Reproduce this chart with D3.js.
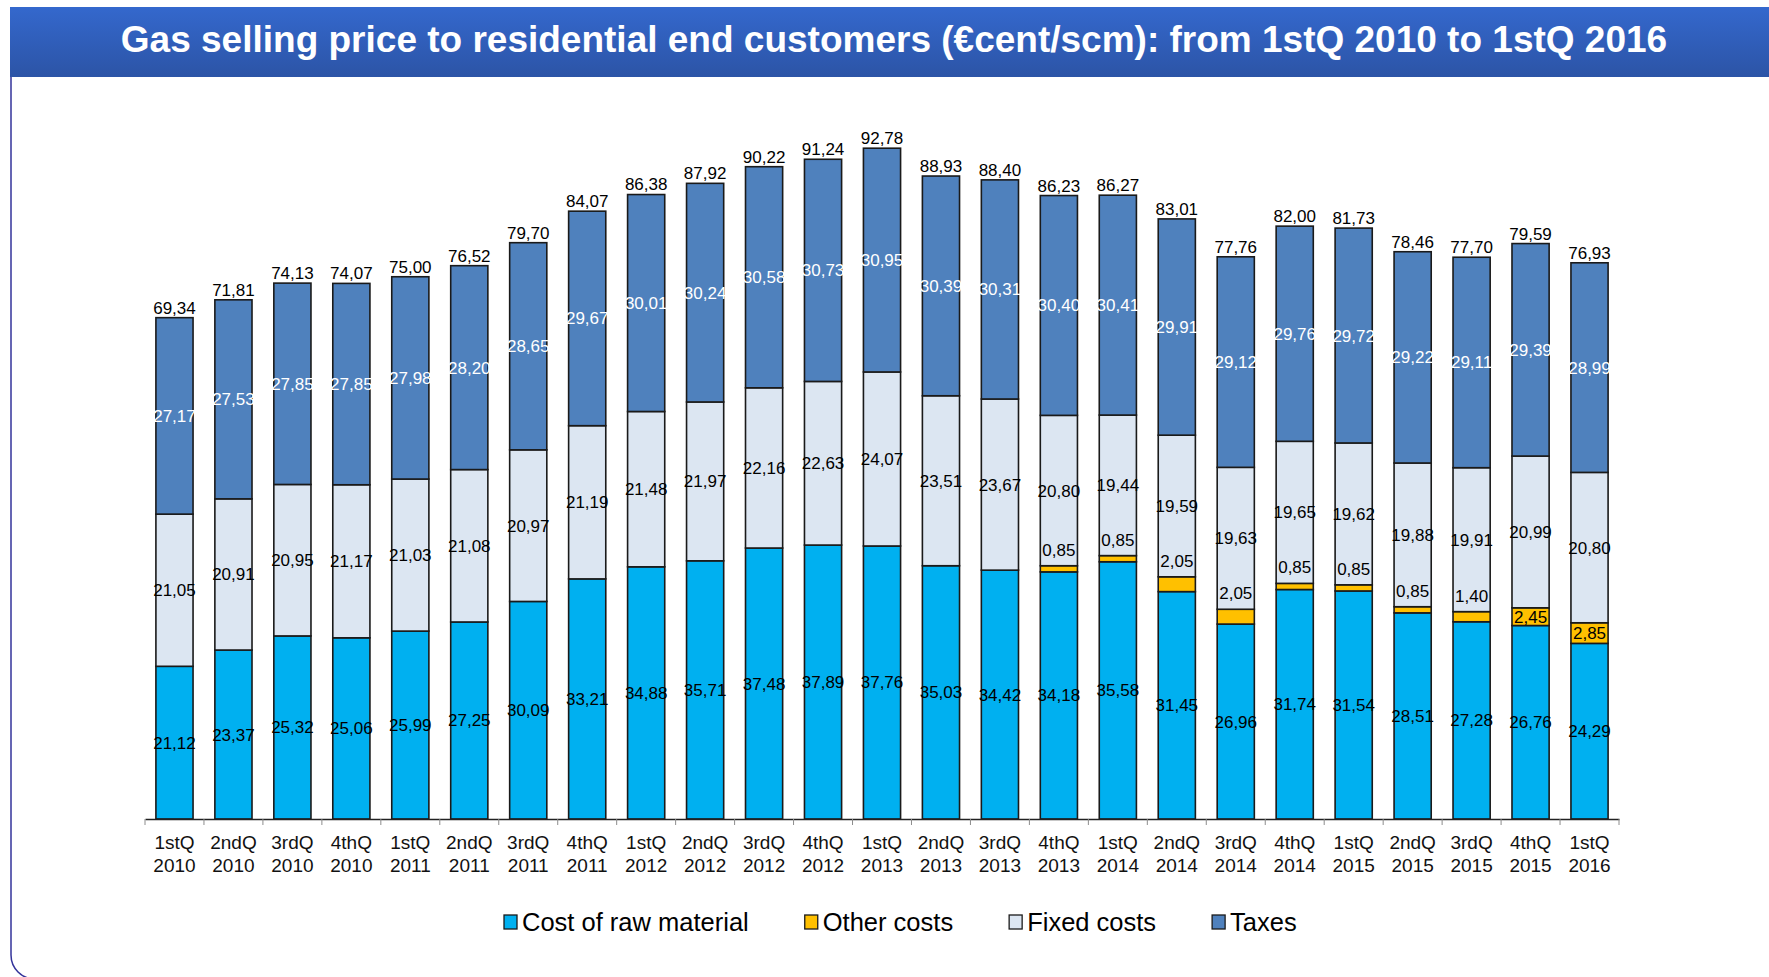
<!DOCTYPE html>
<html>
<head>
<meta charset="utf-8">
<script src="https://cdn.jsdelivr.net/npm/d3@7"></script>
<style>
  body { margin: 0; background: #fff; }
  svg { display: block; font-family: "Liberation Sans", Arial, sans-serif; }
</style>
</head>
<body>
<div id="chart"></div>
<script>
const quarters = ["1stQ 2010", "2ndQ 2010", "3rdQ 2010", "4thQ 2010", "1stQ 2011", "2ndQ 2011", "3rdQ 2011", "4thQ 2011",
  "1stQ 2012", "2ndQ 2012", "3rdQ 2012", "4thQ 2012", "1stQ 2013", "2ndQ 2013", "3rdQ 2013", "4thQ 2013",
  "1stQ 2014", "2ndQ 2014", "3rdQ 2014", "4thQ 2014", "1stQ 2015", "2ndQ 2015", "3rdQ 2015", "4thQ 2015", "1stQ 2016"];
const rawMaterial = [21.12, 23.37, 25.32, 25.06, 25.99, 27.25, 30.09, 33.21, 34.88, 35.71, 37.48, 37.89, 37.76,
  35.03, 34.42, 34.18, 35.58, 31.45, 26.96, 31.74, 31.54, 28.51, 27.28, 26.76, 24.29];
const otherCosts = [0, 0, 0, 0, 0, 0, 0, 0, 0, 0, 0, 0, 0, 0, 0,
  0.85, 0.85, 2.05, 2.05, 0.85, 0.85, 0.85, 1.40, 2.45, 2.85];
const fixedCosts = [21.05, 20.91, 20.95, 21.17, 21.03, 21.08, 20.97, 21.19, 21.48, 21.97, 22.16, 22.63, 24.07,
  23.51, 23.67, 20.80, 19.44, 19.59, 19.63, 19.65, 19.62, 19.88, 19.91, 20.99, 20.80];
const taxes = [27.17, 27.53, 27.85, 27.85, 27.98, 28.20, 28.65, 29.67, 30.01, 30.24, 30.58, 30.73, 30.95,
  30.39, 30.31, 30.40, 30.41, 29.91, 29.12, 29.76, 29.72, 29.22, 29.11, 29.39, 28.99];
const totals = [69.34, 71.81, 74.13, 74.07, 75.00, 76.52, 79.70, 84.07, 86.38, 87.92, 90.22, 91.24, 92.78,
  88.93, 88.40, 86.23, 86.27, 83.01, 77.76, 82.00, 81.73, 78.46, 77.70, 79.59, 76.93];

const seriesKeys = ["raw", "other", "fixed", "tax"];
const seriesNames = ["Cost of raw material", "Other costs", "Fixed costs", "Taxes"];
const seriesColors = ["#00b0f0", "#ffc000", "#dce6f2", "#4f81bd"];
const labelColors = ["#000", "#000", "#000", "#fff"];

const W = 1769, H = 977;
const fmt = v => d3.format(".2f")(v).replace(".", ",");

const rows = quarters.map((q, i) => ({
  q: q, raw: rawMaterial[i], other: otherCosts[i], fixed: fixedCosts[i], tax: taxes[i], total: totals[i]
}));

const svg = d3.select("#chart").append("svg").attr("width", W).attr("height", H);

// frame (right and bottom edges run off the picture)
svg.append("rect")
  .attr("x", 11).attr("y", 40).attr("width", 1800).attr("height", 939).attr("rx", 24)
  .attr("fill", "#fff").attr("stroke", "#33339a").attr("stroke-width", 1.5);

// title band
const grad = svg.append("defs").append("linearGradient")
  .attr("id", "titleGrad").attr("x1", 0).attr("y1", 0).attr("x2", 0).attr("y2", 1);
grad.append("stop").attr("offset", "0%").attr("stop-color", "#3468cd");
grad.append("stop").attr("offset", "100%").attr("stop-color", "#2c54a6");
svg.append("rect").attr("x", 10).attr("y", 7).attr("width", W - 10).attr("height", 70).attr("fill", "url(#titleGrad)");
svg.append("text")
  .attr("x", 894).attr("y", 52).attr("text-anchor", "middle")
  .attr("fill", "#fff").attr("font-weight", "bold").attr("font-size", 37)
  .text("Gas selling price to residential end customers (€cent/scm): from 1stQ 2010 to 1stQ 2016");

// scales
const x = d3.scaleBand().domain(quarters).range([145, 1619]).paddingInner(0.37).paddingOuter(0.185);
const y = d3.scaleLinear().domain([0, 100]).range([819, 96]);

const stacked = d3.stack().keys(seriesKeys)(rows);

const g = svg.append("g");

stacked.forEach((layer, li) => {
  g.append("g").selectAll("rect")
    .data(layer.filter(d => d[1] - d[0] > 0))
    .join("rect")
    .attr("x", d => x(d.data.q))
    .attr("width", x.bandwidth())
    .attr("y", d => y(d[1]))
    .attr("height", d => y(d[0]) - y(d[1]))
    .attr("fill", seriesColors[li])
    .attr("stroke", "#1a1a1a")
    .attr("stroke-width", 1.6);
});

// segment labels (small "other costs" sit just above their segment)
stacked.forEach((layer, li) => {
  g.append("g").selectAll("text")
    .data(layer.filter(d => d[1] - d[0] > 0))
    .join("text")
    .attr("x", d => x(d.data.q) + x.bandwidth() / 2)
    .attr("y", d => {
      const v = d[1] - d[0];
      if (li === 1 && v < 2.2) return y(d[1]) - 10;
      return (y(d[0]) + y(d[1])) / 2 + 6;
    })
    .attr("text-anchor", "middle")
    .attr("font-size", 17)
    .attr("fill", labelColors[li])
    .text(d => fmt(d[1] - d[0]));
});

// totals
g.append("g").selectAll("text")
  .data(rows)
  .join("text")
  .attr("x", d => x(d.q) + x.bandwidth() / 2)
  .attr("y", d => y(d.total) - 4)
  .attr("text-anchor", "middle")
  .attr("font-size", 17)
  .attr("fill", "#000")
  .text(d => fmt(d.total));

// x axis
const axis = svg.append("g")
  .attr("transform", `translate(0,${y(0)})`)
  .call(d3.axisBottom(x).tickSize(0).tickSizeOuter(0).tickPadding(0));
axis.select(".domain").attr("stroke", "#222").attr("stroke-width", 1.3);
axis.selectAll(".tick text").each(function (d) {
  const t = d3.select(this).text("").attr("font-size", 19).attr("fill", "#111")
    .attr("font-family", "'Liberation Sans', Arial, sans-serif").attr("y", 0).attr("dy", null);
  const parts = d.split(" ");
  t.append("tspan").attr("x", 0).attr("y", 30).text(parts[0]);
  t.append("tspan").attr("x", 0).attr("y", 53).text(parts[1]);
});
const bounds = d3.range(quarters.length + 1).map(i => x.range()[0] + i * x.step());
axis.selectAll(".bound")
  .data(bounds)
  .join("line")
  .attr("class", "bound")
  .attr("x1", d => d).attr("x2", d => d)
  .attr("y1", 0).attr("y2", 6)
  .attr("stroke", "#8c8c8c").attr("stroke-width", 1);

// legend
const legend = svg.append("g").attr("transform", "translate(504,922)");
let lx = 0;
seriesNames.forEach((name, i) => {
  const item = legend.append("g").attr("transform", `translate(${lx},0)`);
  item.append("rect")
    .attr("x", 0).attr("y", -7).attr("width", 13).attr("height", 14)
    .attr("fill", seriesColors[i]).attr("stroke", "#1a1a1a").attr("stroke-width", 1.3);
  const t = item.append("text")
    .attr("x", 18).attr("y", 9).attr("font-size", 25.5).attr("fill", "#000")
    .text(name);
  lx += 18 + t.node().getComputedTextLength() + 56;
});
</script>
</body>
</html>
